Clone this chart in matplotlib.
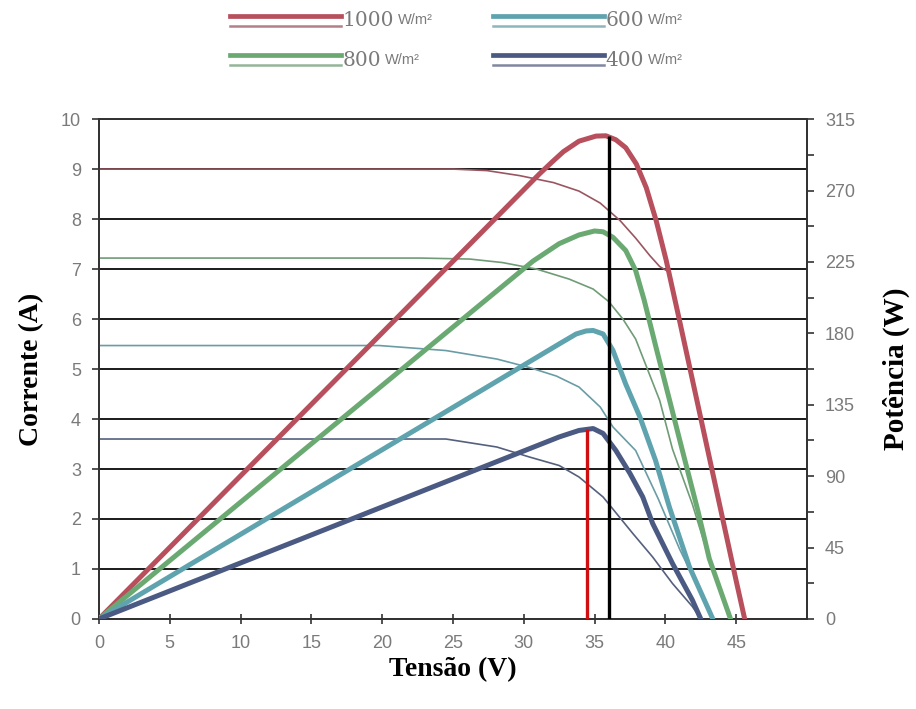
import matplotlib
matplotlib.use("Agg")
import matplotlib.pyplot as plt
from matplotlib.lines import Line2D
from matplotlib.ticker import MultipleLocator

# irradiance levels
LABELS = ["1000", "800", "600", "400"]
COLORS = ["#b84f5c", "#6aaa72", "#5ea3ae", "#4b5a82"]
THIN_COLORS = ["#9a5660", "#6f9c76", "#6a9ca6", "#55607e"]

# current curves (A)
v_i1000 = [0, 25, 27.4, 29.7, 32.1, 33.9, 35.4, 36.8, 37.9, 38.9, 39.6, 40.2, 41.0, 42.0, 43.0, 44.0, 45.0, 45.6]
i_1000 = [9.0, 9.0, 8.97, 8.87, 8.73, 8.56, 8.32, 7.97, 7.62, 7.27, 7.05, 6.95, 5.97, 4.67, 3.37, 2.06, 0.76, 0.0]
v_i800 = [0, 22.7, 26.2, 28.5, 30.9, 33.2, 34.9, 36.0, 37.0, 37.9, 39.6, 40.5, 41.9, 43.1, 44.6]
i_800 = [7.22, 7.22, 7.2, 7.13, 7.0, 6.8, 6.6, 6.35, 6.0, 5.6, 4.37, 3.4, 2.3, 1.2, 0.0]
v_i600 = [0, 19.8, 24.5, 28.1, 30.4, 32.3, 33.9, 35.4, 36.3, 37.9, 39.5, 41.0, 42.2, 43.35]
i_600 = [5.47, 5.47, 5.37, 5.2, 5.03, 4.86, 4.64, 4.24, 3.84, 3.37, 2.4, 1.4, 0.7, 0.0]
v_i400 = [0, 20, 24.5, 28.1, 30.4, 32.5, 33.9, 35.6, 37.7, 39.1, 40.5, 41.9, 42.5]
i_400 = [3.6, 3.6, 3.6, 3.44, 3.24, 3.07, 2.84, 2.44, 1.71, 1.24, 0.71, 0.25, 0.0]

# power curves (W)
v_p1000 = [0, 31.1, 32.0, 32.8, 33.9, 35.1, 35.8, 36.5, 37.2, 37.95, 38.65, 39.36, 40.06, 41.0, 42.0, 43.0, 44.0, 45.0, 45.6]
p_1000 = [0, 280.4, 288.0, 294.5, 301.1, 304.3, 304.5, 302.0, 297.0, 286.7, 271.8, 250.7, 225.9, 188.0, 147.0, 106.0, 65.0, 24.0, 0]
v_p800 = [0, 30.65, 32.5, 33.9, 35.0, 35.6, 36.3, 37.2, 37.9, 38.5, 39.4, 40.3, 41.2, 42.3, 43.1, 44.6]
p_800 = [0, 225.5, 236.5, 242.0, 244.5, 244.0, 240.5, 232.2, 219.6, 201.0, 169.0, 137.7, 106.2, 68.0, 38.0, 0]
v_p600 = [0, 32.5, 33.7, 34.4, 34.9, 35.6, 36.3, 37.2, 38.2, 39.3, 40.3, 41.7, 43.35]
p_600 = [0, 173.3, 179.6, 181.5, 181.8, 179.6, 169.2, 148.0, 127.3, 100.0, 70.0, 32.8, 0]
v_p400 = [0, 32.5, 33.9, 34.9, 35.6, 36.5, 37.5, 38.4, 39.1, 40.5, 41.9, 42.5]
p_400 = [0, 114.7, 118.8, 120.0, 116.9, 106.2, 91.7, 76.9, 60.2, 35.0, 12.0, 0]

# markers for maximum power points
V_MPP_400 = 34.5
P_MPP_400 = 120.0
V_MPP_1000 = 36.0
P_MPP_1000 = 304.5

GRAY = "#7a7a7a"
plt.rcParams["font.family"] = ["Liberation Sans", "DejaVu Sans"]

fig = plt.figure(figsize=(9.16, 7.09), dpi=100)
ax = fig.add_axes([0.108, 0.127, 0.773, 0.705])
ax2 = ax.twinx()

currents = [(v_i1000, i_1000), (v_i800, i_800), (v_i600, i_600), (v_i400, i_400)]
powers = [(v_p1000, p_1000), (v_p800, p_800), (v_p600, p_600), (v_p400, p_400)]

for (v, i), c in zip(currents, THIN_COLORS):
    ax.plot(v, i, color=c, lw=1.2, zorder=3, solid_capstyle="round")
for (v, p), c in zip(powers, COLORS):
    ax2.plot(v, p, color=c, lw=3.6, zorder=4, solid_capstyle="round", solid_joinstyle="round")

ax2.vlines(V_MPP_400, 0, P_MPP_400, color="#d01010", lw=2.4, zorder=6)
ax2.vlines(V_MPP_1000, 0, P_MPP_1000, color="black", lw=2.4, zorder=6)

ax.set_xlim(0, 50)
ax.set_ylim(0, 10)
ax2.set_ylim(0, 315)
ax.set_xticks(range(0, 50, 5))
ax.set_yticks(range(0, 11))
ax2.yaxis.set_major_locator(MultipleLocator(45))
ax2.yaxis.set_minor_locator(MultipleLocator(22.5))

ax.yaxis.grid(True, color="#1a1a1a", lw=1.4)
ax.set_axisbelow(True)
for a in (ax, ax2):
    for s in a.spines.values():
        s.set_color("#333333")
        s.set_linewidth(1.3)

ax.tick_params(axis="x", direction="inout", length=7, width=1.2, colors="#333333",
               labelcolor=GRAY, labelsize=13, pad=8)
ax.tick_params(axis="y", direction="out", length=5, width=1.2, colors="#333333",
               labelcolor=GRAY, labelsize=13, pad=8)
ax2.tick_params(axis="y", which="both", direction="out", length=5, width=1.2, colors="#333333",
                labelcolor=GRAY, labelsize=13, pad=8)

ax.set_xlabel("Tensão (V)", fontsize=20, fontweight="bold", family="Liberation Serif", labelpad=4)
ax.set_ylabel("Corrente (A)", fontsize=20, fontweight="bold", family="Liberation Serif", labelpad=12)
ax2.set_ylabel("Potência (W)", fontsize=21, fontweight="bold", family="Liberation Serif", labelpad=20)

# legend drawn by hand: a thick and a thin stroke per entry
LEGEND_ORDER = [0, 2, 1, 3]
legend_pos = [(0.251, 0.978), (0.538, 0.978), (0.251, 0.922), (0.538, 0.922)]
fig.canvas.draw()
for (x0, y0), k in zip(legend_pos, LEGEND_ORDER):
    fig.add_artist(Line2D([x0, x0 + 0.121], [y0, y0], color=COLORS[k], lw=3.4,
                          transform=fig.transFigure))
    fig.add_artist(Line2D([x0, x0 + 0.121], [y0 - 0.014, y0 - 0.014], color=THIN_COLORS[k], lw=1.8,
                          transform=fig.transFigure, alpha=0.75))
    t = fig.text(x0 + 0.123, y0 - 0.007, LABELS[k], family="DejaVu Serif", fontsize=14.5,
                 color=GRAY, va="center", ha="left")
    bb = t.get_window_extent(fig.canvas.get_renderer())
    fig.text(bb.x1 / fig.bbox.width + 0.004, y0 - 0.006, "W/m²", fontsize=10.5, color=GRAY,
             va="center", ha="left")

fig.savefig("out.png", dpi=100)
